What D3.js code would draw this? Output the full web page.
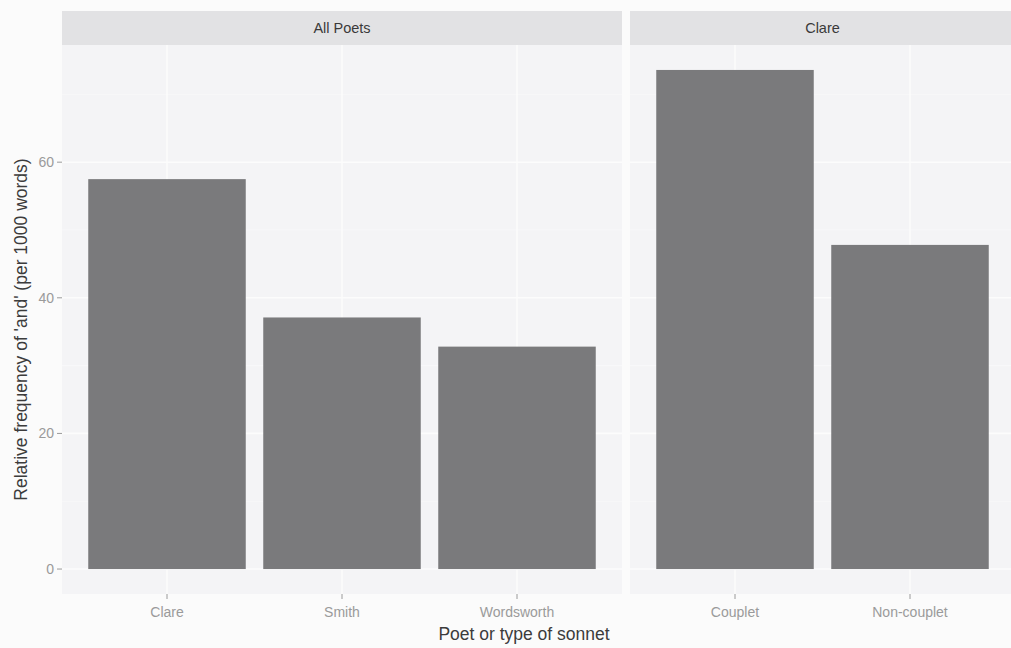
<!DOCTYPE html>
<html lang="en">
<head>
    <meta charset="UTF-8">
    <title>Relative frequency of 'and'</title>
    <script src="https://d3js.org/d3.v7.min.js"></script>
    <style>
        body {
            margin: 0;
            background: #fbfbfb;
        }
        svg {
            font-family: "Liberation Sans", Arial, sans-serif;
        }
        .strip-text {
            font-size: 14.5px;
            fill: #3a3a3a;
        }
        .tick-label {
            font-size: 14px;
            fill: #9a9a9a;
        }
        .axis-title {
            font-size: 17.5px;
            fill: #3c3c3c;
        }
    </style>
</head>
<body>
    <div id="chart"></div>
    <script>
        // Facets and their values (relative frequency per 1000 words)
        const facets = ["All Poets", "Clare"];
        const poetCategories = ["Clare", "Smith", "Wordsworth"];
        const poetValues = [57.5, 37.1, 32.8];
        const sonnetCategories = ["Couplet", "Non-couplet"];
        const sonnetValues = [73.6, 47.8];
        const yTicks = [0, 20, 40, 60];
        const yMinorTicks = [10, 30, 50, 70];

        const W = 1011, H = 648;
        const panelTop = 45, panelBottom = 594;
        const stripTop = 11;
        const unit = 175; // pixels per discrete unit (space = "free")
        const leftStart = 62, gap = 8;

        const panels = [
            { label: facets[0], cats: poetCategories, vals: poetValues },
            { label: facets[1], cats: sonnetCategories, vals: sonnetValues }
        ];

        const maxVal = d3.max(panels.flatMap(p => p.vals));
        const pad = maxVal * 0.05;
        const y = d3.scaleLinear()
            .domain([-pad, maxVal + pad])
            .range([panelBottom, panelTop]);

        const svg = d3.select("#chart")
            .append("svg")
            .attr("width", W)
            .attr("height", H);

        svg.append("rect")
            .attr("width", W)
            .attr("height", H)
            .attr("fill", "#fbfbfb");

        let x0 = leftStart;
        panels.forEach(p => {
            const pw = (p.cats.length + 0.2) * unit;
            const x = d3.scalePoint()
                .domain(p.cats)
                .range([x0 + 0.6 * unit, x0 + pw - 0.6 * unit]);
            const bw = 0.9 * unit;

            const g = svg.append("g");

            // panel background
            g.append("rect")
                .attr("x", x0)
                .attr("y", panelTop)
                .attr("width", pw)
                .attr("height", panelBottom - panelTop)
                .attr("fill", "#f4f4f6");

            // grid lines
            g.selectAll(".minor")
                .data(yMinorTicks)
                .enter()
                .append("line")
                .attr("x1", x0).attr("x2", x0 + pw)
                .attr("y1", d => y(d)).attr("y2", d => y(d))
                .attr("stroke", "#f9f9fa")
                .attr("stroke-width", 0.8);
            g.selectAll(".major")
                .data(yTicks)
                .enter()
                .append("line")
                .attr("x1", x0).attr("x2", x0 + pw)
                .attr("y1", d => y(d)).attr("y2", d => y(d))
                .attr("stroke", "#fcfcfc")
                .attr("stroke-width", 1.6);
            g.selectAll(".vgrid")
                .data(p.cats)
                .enter()
                .append("line")
                .attr("x1", d => x(d)).attr("x2", d => x(d))
                .attr("y1", panelTop).attr("y2", panelBottom)
                .attr("stroke", "#fcfcfc")
                .attr("stroke-width", 1.6);

            // bars
            g.selectAll(".bar")
                .data(p.cats.map((c, i) => ({ cat: c, val: p.vals[i] })))
                .enter()
                .append("rect")
                .attr("class", "bar")
                .attr("x", d => x(d.cat) - bw / 2)
                .attr("width", bw)
                .attr("y", d => y(d.val))
                .attr("height", d => y(0) - y(d.val))
                .attr("fill", "#7a7a7c");

            // strip
            g.append("rect")
                .attr("x", x0)
                .attr("y", stripTop)
                .attr("width", pw)
                .attr("height", panelTop - stripTop)
                .attr("fill", "#e2e2e4");
            g.append("text")
                .attr("class", "strip-text")
                .attr("x", x0 + pw / 2)
                .attr("y", (stripTop + panelTop) / 2 + 5)
                .attr("text-anchor", "middle")
                .text(p.label);

            // x ticks and labels
            g.selectAll(".xtick")
                .data(p.cats)
                .enter()
                .append("line")
                .attr("x1", d => x(d)).attr("x2", d => x(d))
                .attr("y1", panelBottom).attr("y2", panelBottom + 5)
                .attr("stroke", "#9a9a9a");
            g.selectAll(".xlabel")
                .data(p.cats)
                .enter()
                .append("text")
                .attr("class", "tick-label")
                .attr("x", d => x(d))
                .attr("y", panelBottom + 23)
                .attr("text-anchor", "middle")
                .text(d => d);

            x0 += pw + gap;
        });

        // y axis ticks
        const ya = svg.append("g");
        ya.selectAll("line")
            .data(yTicks)
            .enter()
            .append("line")
            .attr("x1", leftStart - 5).attr("x2", leftStart)
            .attr("y1", d => y(d)).attr("y2", d => y(d))
            .attr("stroke", "#9a9a9a");
        ya.selectAll("text")
            .data(yTicks)
            .enter()
            .append("text")
            .attr("class", "tick-label")
            .attr("x", leftStart - 8)
            .attr("y", d => y(d) + 5)
            .attr("text-anchor", "end")
            .text(d => d);

        // axis titles
        svg.append("text")
            .attr("class", "axis-title")
            .attr("x", 524)
            .attr("y", 640)
            .attr("text-anchor", "middle")
            .text("Poet or type of sonnet");

        svg.append("text")
            .attr("class", "axis-title")
            .attr("transform", "translate(27," + ((panelTop + panelBottom) / 2 + 10) + ") rotate(-90)")
            .attr("text-anchor", "middle")
            .text("Relative frequency of 'and' (per 1000 words)");
    </script>
</body>
</html>
